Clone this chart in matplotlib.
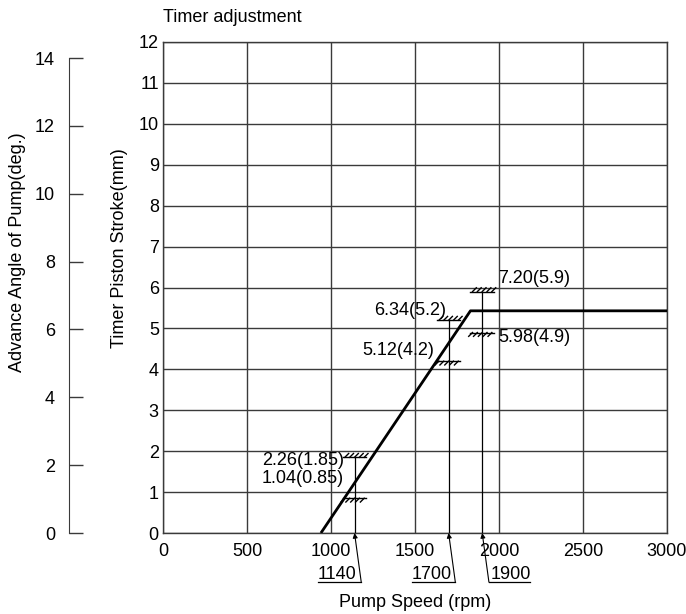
import numpy as np
import matplotlib.pyplot as plt
from matplotlib import patheffects as pe

plt.rcParams['font.family'] = ['Liberation Sans', 'DejaVu Sans']
plt.rcParams['font.size'] = 13

# timer curve: pump speed (rpm) vs piston stroke (mm)
speed = [940, 1830, 3000]
stroke = [0, 5.43, 5.43]

# stop checks: speed, stroke (mm) and advance angle (deg)
stop_rpm = [1140, 1140, 1700, 1700, 1900, 1900]
stop_mm = [0.85, 1.85, 4.2, 5.2, 4.9, 5.9]
stop_deg = [1.04, 2.26, 5.12, 6.34, 5.98, 7.20]
check_rpm = [1140, 1700, 1900]
check_top = [1.85, 5.2, 5.9]

x_ticks = np.arange(0, 3001, 500)
y_ticks = np.arange(0, 13, 1)
deg_ticks = np.arange(0, 15, 2)
deg_per_mm = 1.206

grid_c = '#3a3a3a'

fig = plt.figure(figsize=(6.86, 6.14), dpi=100)
ax = fig.add_axes([163/686, 1-533/614, 504/686, 491/614])
ax.set_xlim(0, 3000)
ax.set_ylim(0, 12)
ax.set_xticks(x_ticks)
ax.set_yticks(y_ticks)
ax.tick_params(length=0)
ax.tick_params(axis='y', pad=3)
ax.tick_params(axis='x', pad=7)
ax.grid(True, color=grid_c, lw=1.0)
for s in ax.spines.values():
    s.set_color(grid_c)
    s.set_linewidth(1.0)

ax.plot(speed, stroke, color='black', lw=2.0, solid_capstyle='butt', zorder=5)

# hatched stop marks
half = 70
for i, (r, m) in enumerate(zip(stop_rpm, stop_mm)):
    xs = [r - half, r + half] if i % 2 else [r + half, r - half]
    ax.plot(xs, [m, m], color='black', lw=1.0, zorder=6,
            path_effects=[pe.withTickedStroke(spacing=3, angle=45, length=1.3)])

# vertical check lines
for r, top in zip(check_rpm, check_top):
    ax.plot([r, r], [0, top], color='black', lw=0.9, zorder=4)

# stop labels
label_pos = [(1077, 1.34, 'right'), (1077, 1.76, 'right'), (1613, 4.47, 'right'),
             (1685, 5.45, 'right'), (1994, 4.77, 'left'), (1994, 6.23, 'left')]
for (lx, ly, ha), d, m in zip(label_pos, stop_deg, stop_mm):
    ax.text(lx, ly, f'{d:.2f}({m:g})', ha=ha, va='center', zorder=7)

# speed callouts below the axis
sides = ['left', 'left', 'right']
y_ul = -1.2
for r, side in zip(check_rpm, sides):
    tail = r + 40
    if side == 'left':
        x0, x1 = tail - 260, tail
        tx = (x0 + x1) / 2 - 12
    else:
        x0, x1 = tail, tail + 245
        tx = (x0 + x1) / 2 + 5
    ax.plot([x0, x1], [y_ul, y_ul], color='black', lw=0.9, clip_on=False)
    ax.text(tx, y_ul + 0.08, str(r), ha='center', va='baseline')
    ax.annotate('', xy=(r, 0), xytext=(tail, y_ul), annotation_clip=False,
                arrowprops=dict(arrowstyle='-|>', color='black', lw=0.8,
                                mutation_scale=7, shrinkA=0, shrinkB=0))

ax.text(0, 1 + 24/491, 'Timer adjustment', transform=ax.transAxes,
        ha='left', va='center')
ax.set_xlabel('Pump Speed (rpm)', labelpad=25)
fig.text(119/686, 1-248/614, 'Timer Piston Stroke(mm)', rotation=90,
         ha='center', va='center')

# advance angle scale
ax2 = fig.add_axes([69/686, 1-533/614, 0.02, 491/614])
ax2.set_ylim(0, 12 * deg_per_mm)
ax2.set_yticks(deg_ticks)
ax2.set_xticks([])
for k in ['top', 'right', 'bottom']:
    ax2.spines[k].set_visible(False)
ax2.spines['left'].set_bounds(0, 14)
ax2.spines['left'].set_color(grid_c)
ax2.patch.set_visible(False)
ax2.tick_params(axis='y', direction='in', length=10, width=1.0, color=grid_c, pad=10)
fig.text(18/686, 1-252/614, 'Advance Angle of Pump(deg.)', rotation=90,
         ha='center', va='center')

fig.savefig('out.png', dpi=100)
